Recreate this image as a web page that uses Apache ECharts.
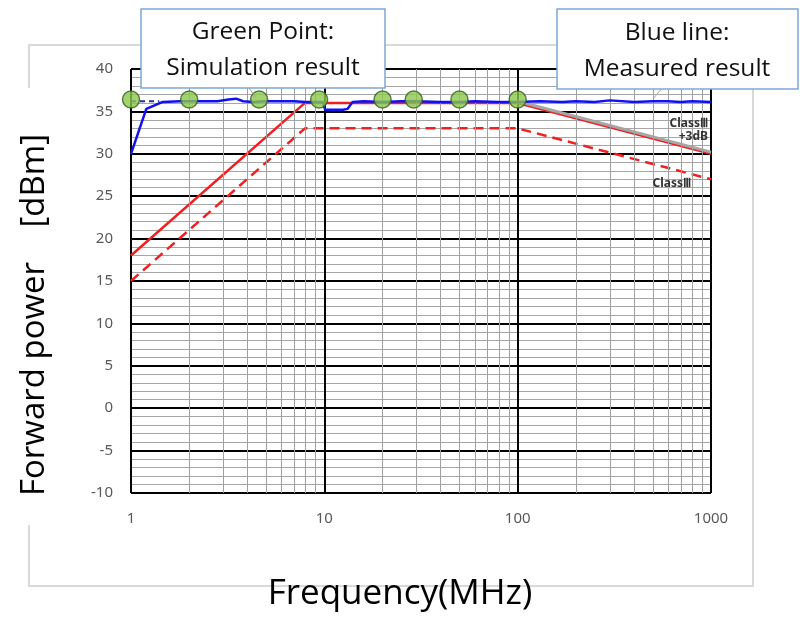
<!DOCTYPE html>
<html lang="en">
<head>
    <meta charset="UTF-8">
    <script src="https://cdn.jsdelivr.net/npm/echarts@6/dist/echarts.min.js"></script>
</head>
<body style="margin:0;background:#fff">
<div id="chart" style="width: 800px;height: 619px"></div>
<script>
    // measured result (blue line)
    var measFreq = [1, 1.2, 1.45, 1.8, 2.2, 2.8, 3.2, 3.5, 3.8, 4.3, 5, 6, 7, 8, 9, 9.8, 10.1, 11, 12.5, 13.2, 14, 16, 20, 25, 30, 40, 50, 60, 80, 100, 130, 170, 200, 250, 300, 400, 500, 600, 700, 800, 1000];
    var measPower = [30, 35.3, 36.1, 36.2, 36.2, 36.2, 36.4, 36.5, 36.2, 36.1, 36.2, 36.2, 36.2, 36.1, 36.1, 36.1, 35.2, 35.2, 35.2, 35.3, 36.1, 36.2, 36.1, 36.2, 36.2, 36.1, 36.1, 36.2, 36.1, 36.1, 36.2, 36.1, 36.2, 36.1, 36.3, 36.1, 36.2, 36.2, 36.1, 36.2, 36.1];
    // simulation result (green points)
    var simFreq = [1, 2, 4.6, 9.4, 20, 29, 50, 100];
    var simPower = [36.4, 36.4, 36.4, 36.4, 36.4, 36.4, 36.4, 36.4];
    // short dashed navy line
    var dashFreq = [1, 1.4];
    var dashPower = [36.2, 36.2];
    // limit lines
    var limFreq = [1, 7.94, 100, 1000];
    var class3dB = [18, 36, 36, 30];
    var class3 = [15, 33, 33, 27];
    var grayFreq = [100, 1000];
    var grayPower = [36.2, 30.2];
    // axis ticks
    var yTicks = [-10, -5, 0, 5, 10, 15, 20, 25, 30, 35, 40];
    var minorFreq = [2, 3, 4, 5, 6, 7, 8, 9, 20, 30, 40, 50, 60, 70, 80, 90, 200, 300, 400, 500, 600, 700, 800, 900];

    function pairs(xs, ys) {
        var out = [];
        for (var i = 0; i < xs.length; i++) out.push([xs[i], ys[i]]);
        return out;
    }

    var mycharts = echarts.init(document.getElementById('chart'));
    var lbl = {color: '#595959', fontSize: 15, fontFamily: 'Noto Sans'};

    var option = {
        animation: false,
        backgroundColor: '#fff',
        grid: {left: 131, right: 89, top: 69, bottom: 126},
        xAxis: {
            type: 'log',
            logBase: 10,
            min: 1,
            max: 1000,
            axisLine: {show: false},
            axisTick: {show: false},
            axisLabel: Object.assign({margin: 18, formatter: function (v) { return String(Math.round(v)); }}, lbl),
            splitLine: {show: true, lineStyle: {color: '#000', width: 2}}
        },
        yAxis: {
            type: 'value',
            min: yTicks[0],
            max: yTicks[yTicks.length - 1],
            interval: 5,
            axisLine: {show: false},
            axisTick: {show: false},
            axisLabel: Object.assign({margin: 18}, lbl),
            splitLine: {show: true, lineStyle: {color: '#000', width: 2}},
            minorTick: {show: false, splitNumber: 5},
            minorSplitLine: {show: true, lineStyle: {color: '#a6a6a6', width: 1}}
        },
        series: [
            {
                type: 'line',
                data: [],
                z: 1,
                silent: true,
                markLine: {
                    silent: true,
                    symbol: 'none',
                    label: {show: false},
                    lineStyle: {color: '#a0a0a0', width: 1, type: 'solid'},
                    data: minorFreq.map(function (f) { return {xAxis: f}; })
                }
            },
            {
                type: 'line', data: pairs(limFreq, class3), z: 3, symbol: 'none',
                lineStyle: {color: '#f02020', width: 2.5, type: [10, 6]}
            },
            {
                type: 'line', data: pairs(limFreq, class3dB), z: 3, symbol: 'none',
                lineStyle: {color: '#f02020', width: 2.5}
            },
            {
                type: 'line', data: pairs(grayFreq, grayPower), z: 4, symbol: 'none',
                lineStyle: {color: '#a6a6a6', width: 3}
            },
            {
                type: 'line', data: pairs(dashFreq, dashPower), z: 5, symbol: 'none',
                lineStyle: {color: '#2030a0', width: 2, type: [5, 4]}
            },
            {
                type: 'line', data: pairs(measFreq, measPower), z: 6, symbol: 'none',
                lineStyle: {color: '#1010f0', width: 2.5}
            },
            {
                type: 'scatter', data: pairs(simFreq, simPower), z: 7, symbolSize: 17,
                itemStyle: {color: '#8cc84b', borderColor: '#3a5f24', borderWidth: 1.5}
            }
        ],
        graphic: [
            {
                type: 'polyline', z: 0, silent: true,
                shape: {points: [[29, 88], [29, 45], [753, 45], [753, 586], [29, 586], [29, 525]]},
                style: {stroke: '#d9d9d9', lineWidth: 2, fill: null}
            },
            {
                type: 'text', z: 50, x: 35, y: 315, rotation: Math.PI / 2,
                style: {text: 'Forward power    [dBm]', fontSize: 33, fontFamily: 'Open Sans', fill: '#000', align: 'center', verticalAlign: 'middle'}
            },
            {
                type: 'text', z: 50, x: 400, y: 594,
                style: {text: 'Frequency(MHz)', fontSize: 35, fontFamily: 'Open Sans', fill: '#000', align: 'center', verticalAlign: 'middle'}
            },
            {
                type: 'line', z: 99, shape: {x1: 249, y1: 88, x2: 256, y2: 98},
                style: {stroke: '#a6a6a6', lineWidth: 1}
            },
            {
                type: 'line', z: 99, shape: {x1: 662, y1: 88, x2: 653, y2: 99},
                style: {stroke: '#a6a6a6', lineWidth: 1}
            },
            {
                type: 'rect', z: 100, shape: {x: 141, y: 9, width: 244, height: 79},
                style: {fill: '#fff', stroke: '#7ea6d3', lineWidth: 1.5}
            },
            {
                type: 'text', z: 101, x: 263, y: 50,
                style: {text: 'Green Point:\nSimulation result', fontSize: 24.5, lineHeight: 36, fontFamily: 'Open Sans', fill: '#111', align: 'center', verticalAlign: 'middle'}
            },
            {
                type: 'rect', z: 100, shape: {x: 557, y: 9, width: 241, height: 80},
                style: {fill: '#fff', stroke: '#7ea6d3', lineWidth: 1.5}
            },
            {
                type: 'text', z: 101, x: 677, y: 51,
                style: {text: 'Blue line:\nMeasured result', fontSize: 24.5, lineHeight: 36, fontFamily: 'Open Sans', fill: '#111', align: 'center', verticalAlign: 'middle'}
            },
            {
                type: 'text', z: 101, x: 708, y: 130,
                style: {text: 'ClassⅢ\n+3dB', fontSize: 12, lineHeight: 13, fontWeight: 'bold', fontFamily: 'Noto Sans', fill: '#333', align: 'right', verticalAlign: 'middle'}
            },
            {
                type: 'text', z: 101, x: 691, y: 184,
                style: {text: 'ClassⅢ', fontSize: 12, fontWeight: 'bold', fontFamily: 'Noto Sans', fill: '#333', align: 'right', verticalAlign: 'middle'}
            }
        ]
    };

    mycharts.setOption(option);
</script>
</body>
</html>
